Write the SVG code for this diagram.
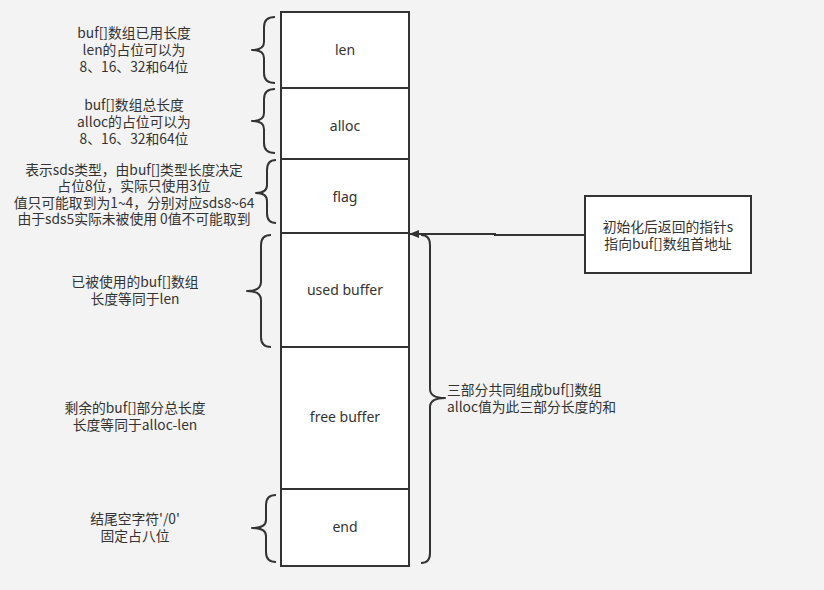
<svg xmlns="http://www.w3.org/2000/svg" width="824" height="590" viewBox="0 0 824 590">
<defs>
<style>
.bg{fill:#f3f3f3}
.box{fill:#ffffff;stroke:#333333;stroke-width:2}
.br{fill:none;stroke:#333333;stroke-width:2;stroke-linejoin:round}
.t{font-family:"Noto Sans CJK SC","Noto Sans",sans-serif;font-size:13.8px;fill:#333333;text-anchor:middle}
.tl{font-family:"Noto Sans CJK SC","Noto Sans",sans-serif;font-size:13.8px;fill:#333333;text-anchor:start}
.lbl{font-family:"Noto Sans","Open Sans",sans-serif;font-size:14px;fill:#333333;text-anchor:middle}
</style>
<marker id="ah" viewBox="0 0 10 10" refX="9" refY="5" markerWidth="10" markerHeight="10" markerUnits="userSpaceOnUse" orient="auto">
<path d="M0,1 L10,5 L0,9 Z" fill="#333333"/>
</marker>
</defs>
<rect class="bg" x="0" y="0" width="824" height="590"/>

<g id="len"><rect class="box" x="281" y="12" width="128" height="76"/><text class="lbl" x="345" y="55">len</text></g>
<g id="alloc"><rect class="box" x="281" y="88" width="128" height="71"/><text class="lbl" x="345" y="131">alloc</text></g>
<g id="flag"><rect class="box" x="281" y="159" width="128" height="74"/><text class="lbl" x="345" y="202">flag</text></g>
<g id="used"><rect class="box" x="281" y="233" width="128" height="114"/><text class="lbl" x="345" y="295">used buffer</text></g>
<g id="free"><rect class="box" x="281" y="347" width="128" height="142"/><text class="lbl" x="345" y="422">free buffer</text></g>
<g id="end"><rect class="box" x="281" y="489" width="128" height="77"/><text class="lbl" x="345" y="532">end</text></g>

<g id="ptr"><rect class="box" x="585" y="196" width="166" height="77"/>
<text class="t" x="668" y="232">初始化后返回的指针s</text>
<text class="t" x="668" y="249">指向buf[]数组首地址</text></g>

<g id="lenNote">
<path class="br" d="M275,17 Q264,17 264,27 L264,42 Q264,50 252,50 Q264,50 264,58 L264,73 Q264,83 275,83"/>
<text class="t" x="134" y="38">buf[]数组已用长度</text>
<text class="t" x="134" y="55">len的占位可以为</text>
<text class="t" x="134" y="72">8、16、32和64位</text>
</g>
<g id="allocNote">
<path class="br" d="M275,89 Q264,89 264,99 L264,113 Q264,121 252,121 Q264,121 264,129 L264,143 Q264,153 275,153"/>
<text class="t" x="134" y="110">buf[]数组总长度</text>
<text class="t" x="134" y="127">alloc的占位可以为</text>
<text class="t" x="134" y="144">8、16、32和64位</text>
</g>
<g id="flagNote">
<path class="br" d="M276,160 Q267,160 267,170 L267,185 Q267,193 256,193 Q267,193 267,201 L267,213 Q267,223 276,223"/>
<text class="t" x="134" y="175">表示sds类型，由buf[]类型长度决定</text>
<text class="t" x="134" y="191">占位8位，实际只使用3位</text>
<text class="t" x="134" y="208">值只可能取到为1~4，分别对应sds8~64</text>
<text class="t" x="134" y="224">由于sds5实际未被使用 0值不可能取到</text>
</g>
<g id="usedNote">
<path class="br" d="M271,235 Q261,235 261,245 L261,282 Q261,291 247,291 Q261,291 261,300 L261,337 Q261,347 271,347"/>
<text class="t" x="135" y="287">已被使用的buf[]数组</text>
<text class="t" x="135" y="304">长度等同于len</text>
</g>
<g id="freeNote">
<text class="t" x="135" y="413">剩余的buf[]部分总长度</text>
<text class="t" x="135" y="430">长度等同于alloc-len</text>
</g>
<g id="endNote">
<path class="br" d="M276,495 Q266,495 266,505 L266,520 Q266,528 252,528 Q266,528 266,536 L266,552 Q266,562 276,562"/>
<text class="t" x="135" y="524">结尾空字符'/0'</text>
<text class="t" x="135" y="541">固定占八位</text>
</g>
<g id="bufNote">
<path class="br" d="M421,235 Q430,235 430,245 L430,389 Q430,398 445,398 Q430,398 430,407 L430,553 Q430,563 421,563"/>
<text class="tl" x="447" y="395">三部分共同组成buf[]数组</text>
<text class="tl" x="447" y="412">alloc值为此三部分长度的和</text>
</g>

<g id="connectors">
<path d="M585,235 L495,235 L495,234 L410,234" fill="none" stroke="#333333" stroke-width="2" marker-end="url(#ah)"/>
</g>
</svg>
